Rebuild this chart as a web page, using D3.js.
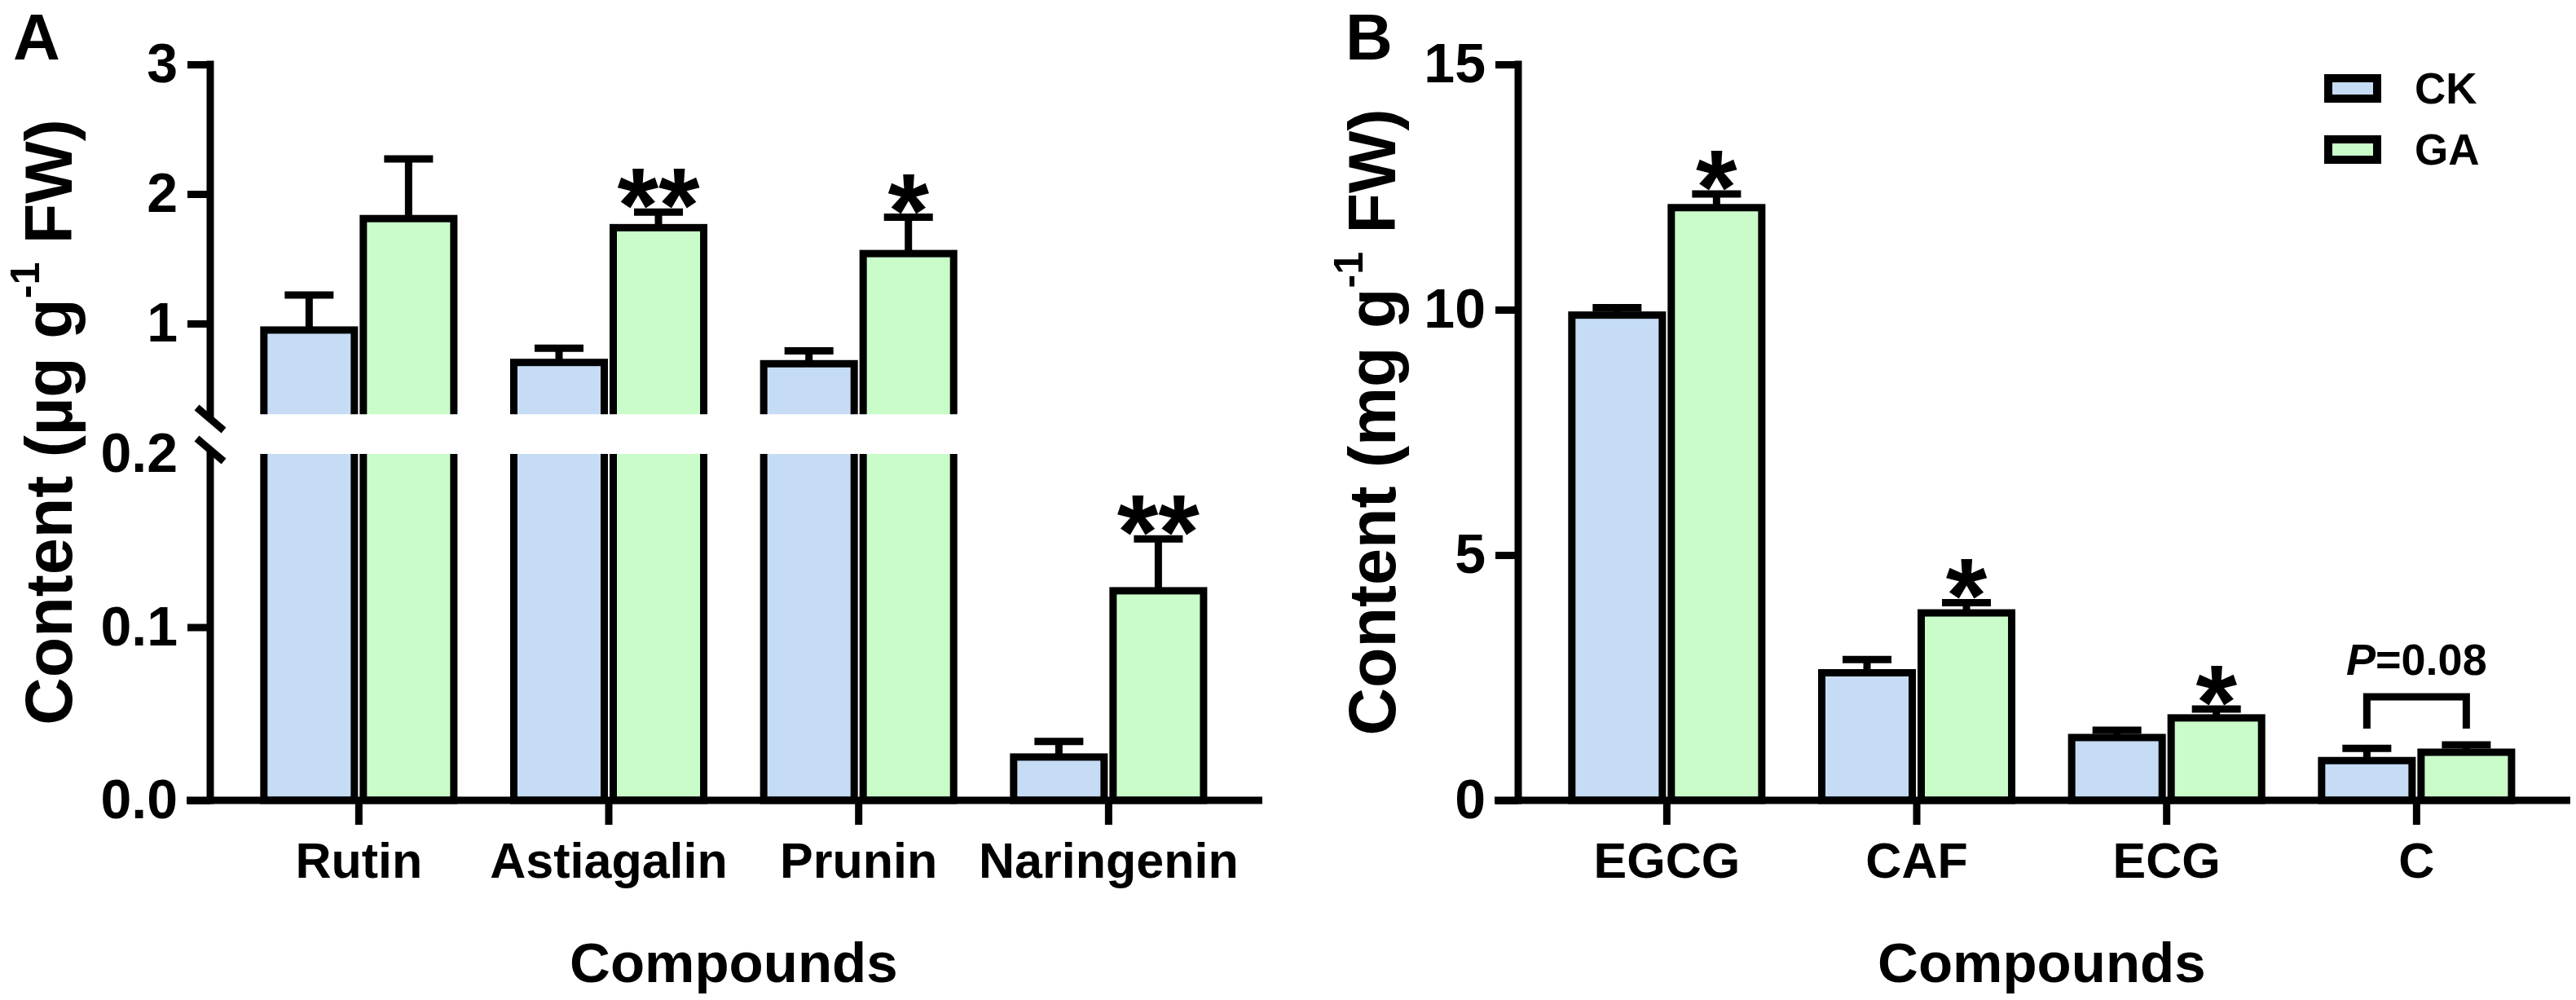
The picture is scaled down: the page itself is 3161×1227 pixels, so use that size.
<!DOCTYPE html>
<html><head><meta charset="utf-8">
<script src="https://cdn.jsdelivr.net/npm/d3@7"></script>
<style>
body{margin:0;background:#fff}
svg{display:block}
text{font-family:"Liberation Sans",Arial,Helvetica,sans-serif;font-weight:bold;fill:#000}
</style>
</head><body>
<svg id="chart" width="3161" height="1227"></svg>
<script>
// ---------------- data ----------------
const seriesNames = ["CK", "GA"];
const seriesColors = ["#C6DCF5", "#CAFCCA"];

const catsA = ["Rutin", "Astiagalin", "Prunin", "Naringenin"];
const ckA = [0.95, 0.70, 0.69, 0.025];
const ckSdA = [0.27, 0.11, 0.10, 0.009];
const gaA = [1.81, 1.74, 1.54, 0.121];
const gaSdA = [0.46, 0.12, 0.28, 0.030];
const sigA = ["", "**", "*", "**"];
const ticksAUpper = [1, 2, 3];
const ticksALower = [0, 0.1, 0.2];

const catsB = ["EGCG", "CAF", "ECG", "C"];
const ckB = [9.89, 2.60, 1.28, 0.81];
const ckSdB = [0.15, 0.27, 0.15, 0.25];
const gaB = [12.08, 3.82, 1.68, 0.98];
const gaSdB = [0.28, 0.21, 0.18, 0.15];
const sigB = ["*", "*", "*", ""];
const ticksB = [0, 5, 10, 15];
const pCategory = "C";
const pLabel = "=0.08";

// ---------------- layout ----------------
const svg = d3.select("#chart");
const Y0 = 982, YTOP = 79;
const SW = 9;
const FS = {tick: 68, xlab: 61, title: 81, comp: 69, letter: 80, star: 130, p: 54, legend: 53};

function drawPanel(o) {
  const g = svg.append("g");
  const x0 = d3.scaleBand().domain(o.cats)
    .range([o.axisX + 29, o.axisX + 29 + 1226.7])
    .paddingInner(0.24).paddingOuter(0.12);
  const x1 = d3.scaleBand().domain(seriesNames)
    .range([0, x0.bandwidth()]).paddingInner(0.09);

  const rows = o.cats.map((c, i) => ({
    cat: c,
    vals: [ {s: 0, v: o.ck[i], sd: o.ckSd[i]}, {s: 1, v: o.ga[i], sd: o.gaSd[i]} ],
    sig: o.sig[i]
  }));

  // bars per segment, clipped
  o.segs.forEach((seg, si) => {
    const id = o.id + "clip" + si;
    svg.append("clipPath").attr("id", id).append("rect")
      .attr("x", 0).attr("width", 3161)
      .attr("y", seg.clip[0]).attr("height", seg.clip[1] - seg.clip[0]);
    const [d0, d1] = seg.s.domain();
    const sg = g.append("g").attr("clip-path", `url(#${id})`);
    rows.forEach(r => {
      r.vals.forEach(b => {
        if (b.v <= d0) return;
        const top = b.v >= d1 ? seg.s.range()[1] - 40 : seg.s(b.v);
        const bottom = d0 > 0 ? seg.s(d0) + 40 : seg.s(d0);
        sg.append("rect")
          .attr("x", x0(r.cat) + x1(seriesNames[b.s]))
          .attr("width", x1.bandwidth())
          .attr("y", top).attr("height", bottom - top)
          .attr("fill", seriesColors[b.s])
          .attr("stroke", "#000").attr("stroke-width", SW);
      });
    });
  });

  const segOf = v => o.segs.find(seg => v >= seg.s.domain()[0] && v <= seg.s.domain()[1]);

  // error bars + significance
  rows.forEach(r => {
    r.vals.forEach(b => {
      const seg = segOf(b.v);
      const cx = x0(r.cat) + x1(seriesNames[b.s]) + x1.bandwidth() / 2;
      const yv = seg.s(b.v), ye = seg.s(b.v + b.sd);
      g.append("line").attr("x1", cx).attr("x2", cx).attr("y1", yv).attr("y2", ye)
        .attr("stroke", "#000").attr("stroke-width", SW);
      g.append("line").attr("x1", cx - 30).attr("x2", cx + 30).attr("y1", ye).attr("y2", ye)
        .attr("stroke", "#000").attr("stroke-width", SW);
      if (b.s === 1 && r.sig) {
        g.append("text").attr("x", cx).attr("y", ye + 37)
          .attr("text-anchor", "middle").attr("font-size", FS.star).text(r.sig);
      }
    });
  });

  // y axes
  o.yAxes.forEach(ax => {
    const a = g.append("g").attr("transform", `translate(${o.axisX},0)`)
      .call(d3.axisLeft(ax.s).tickValues(ax.values).tickSize(28).tickPadding(12).tickFormat(ax.fmt));
    a.select(".domain").remove();
    a.selectAll(".tick line").attr("stroke", "#000").attr("stroke-width", SW)
      .attr("display", d => (ax.noTick && ax.noTick.includes(d)) ? "none" : null);
    a.selectAll(".tick text").attr("font-size", FS.tick)
      .attr("font-family", null).attr("fill", "#000");
    g.append("line").attr("x1", o.axisX).attr("x2", o.axisX)
      .attr("y1", ax.line[0]).attr("y2", ax.line[1])
      .attr("stroke", "#000").attr("stroke-width", SW);
  });

  // x axis
  const xa = g.append("g").attr("transform", `translate(0,${Y0})`)
    .call(d3.axisBottom(x0).tickSize(30).tickPadding(22));
  xa.select(".domain").remove();
  xa.selectAll(".tick line").attr("stroke", "#000").attr("stroke-width", SW);
  xa.selectAll(".tick text").attr("font-size", FS.xlab).attr("font-family", null).attr("fill", "#000");
  g.append("line").attr("x1", o.axisX - 29).attr("x2", o.axisX + 1291)
    .attr("y1", Y0).attr("y2", Y0).attr("stroke", "#000").attr("stroke-width", SW);

  // axis titles
  g.append("text").attr("x", (x0.range()[0] + x0.range()[1]) / 2).attr("y", 1205)
    .attr("text-anchor", "middle").attr("font-size", FS.comp).text("Compounds");
  const t = g.append("text").attr("transform", `translate(${o.titleX},518) rotate(-90)`)
    .attr("text-anchor", "middle").attr("font-size", FS.title);
  t.append("tspan").text(o.titleA);
  t.append("tspan").attr("font-size", 50).attr("dy", -40).text("-1");
  t.append("tspan").attr("dy", 40).text(" FW)");

  g.append("text").attr("x", o.letterX).attr("y", 73).attr("font-size", FS.letter).text(o.letter);
  return {g, x0, x1};
}

// Panel A (broken axis)
const yAU = d3.scaleLinear().domain([0.3, 3]).range([508.3, YTOP]);
const yAL = d3.scaleLinear().domain([0, 0.2]).range([Y0, 557]);
const pA = drawPanel({
  id: "A", axisX: 258, cats: catsA, ck: ckA, ckSd: ckSdA, ga: gaA, gaSd: gaSdA, sig: sigA,
  segs: [ {s: yAU, clip: [0, 508.3]}, {s: yAL, clip: [557, 1000]} ],
  yAxes: [
    {s: yAU, values: ticksAUpper, fmt: d3.format("d"), line: [YTOP - 4.5, 514]},
    {s: yAL, values: ticksALower, fmt: d3.format(".1f"), noTick: [0.2], line: [552, Y0 + 4.5]}
  ],
  titleX: 88, titleA: "Content (µg g", letter: "A", letterX: 16
});
// break marks
[514, 552].forEach(cy => {
  pA.g.append("line").attr("x1", 258 - 16.5).attr("x2", 258 + 16.5)
    .attr("y1", cy - 14).attr("y2", cy + 14)
    .attr("stroke", "#000").attr("stroke-width", SW);
});

// Panel B
const yB = d3.scaleLinear().domain([0, 15]).range([Y0, YTOP]);
const pB = drawPanel({
  id: "B", axisX: 1863, cats: catsB, ck: ckB, ckSd: ckSdB, ga: gaB, gaSd: gaSdB, sig: sigB,
  segs: [ {s: yB, clip: [0, 1000]} ],
  yAxes: [ {s: yB, values: ticksB, fmt: d3.format("d"), line: [YTOP - 4.5, Y0 + 4.5]} ],
  titleX: 1712, titleA: "Content (mg g", letter: "B", letterX: 1651
});

// P-value bracket
{
  const i = catsB.indexOf(pCategory);
  const xl = pB.x0(pCategory) + pB.x1("CK") + pB.x1.bandwidth() / 2;
  const xr = pB.x0(pCategory) + pB.x1("GA") + pB.x1.bandwidth() / 2;
  const topV = Math.max(ckB[i] + ckSdB[i], gaB[i] + gaSdB[i]);
  const legBottom = yB(topV) - 20;
  const by = legBottom - 39;
  pB.g.append("path")
    .attr("d", `M${xl},${legBottom}V${by}H${xr}V${legBottom}`)
    .attr("fill", "none").attr("stroke", "#000").attr("stroke-width", SW);
  const pt = pB.g.append("text").attr("x", (xl + xr) / 2).attr("y", by - 27)
    .attr("text-anchor", "middle").attr("font-size", FS.p);
  pt.append("tspan").attr("font-style", "italic").text("P");
  pt.append("tspan").text(pLabel);
}

// Legend
{
  const lg = svg.append("g");
  seriesNames.forEach((n, k) => {
    lg.append("rect").attr("x", 2857).attr("y", 96 + k * 75).attr("width", 60).attr("height", 25)
      .attr("fill", seriesColors[k]).attr("stroke", "#000").attr("stroke-width", 10);
    lg.append("text").attr("x", 2963).attr("y", 127 + k * 75)
      .attr("font-size", FS.legend).text(n);
  });
}
</script>
</body></html>
